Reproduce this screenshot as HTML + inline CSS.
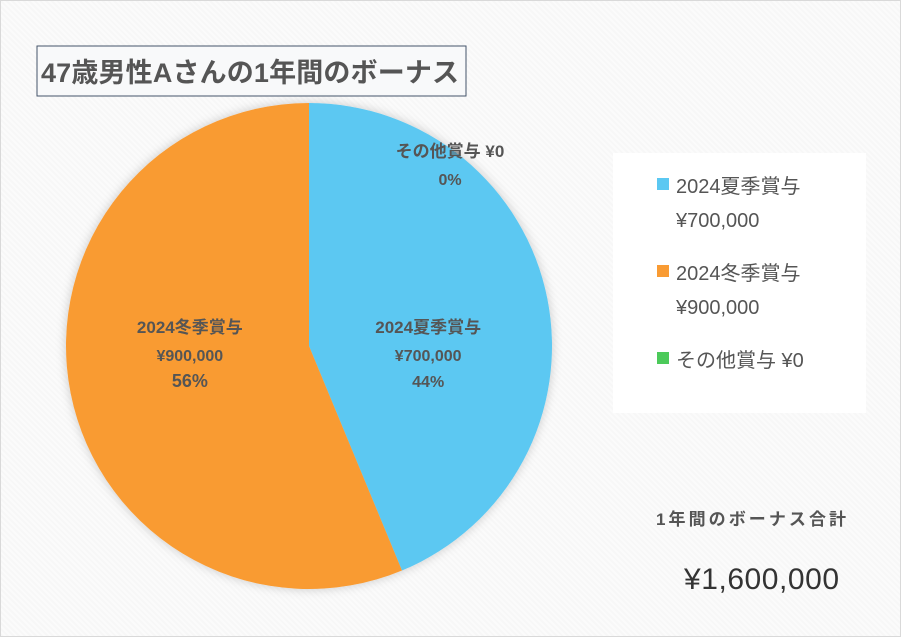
<!DOCTYPE html>
<html><head><meta charset="utf-8"><style>
body{margin:0;width:901px;height:637px;overflow:hidden;font-family:"Liberation Sans","Noto Sans CJK JP",sans-serif;}
#wrap{position:absolute;left:0;top:0;width:899px;height:635px;border:1px solid #d9d9d9;background:repeating-linear-gradient(45deg,#f7f7f7 0 2px,#fbfbfb 2px 4px);}
</style></head><body>
<div id="wrap">
<svg width="901" height="637" style="position:absolute;left:0;top:0">
<defs><filter id="sh" x="-10%" y="-10%" width="120%" height="120%"><feDropShadow dx="0" dy="0" stdDeviation="5" flood-color="#000" flood-opacity="0.2"/></filter></defs>
<rect x="36" y="45" width="429" height="50" fill="#f8f9fa" stroke="#44546a" stroke-width="1"/>
<text x="40" y="81" font-size="27" font-weight="bold" fill="#555" textLength="418">47歳男性Aさんの1年間のボーナス</text>
<g id="slices" filter="url(#sh)"></g>
<g id="labels"></g>
<rect x="612" y="152" width="253" height="260" fill="#fff"/>
<g id="legend"></g>
<text x="655" y="524" font-size="17" font-weight="bold" fill="#555" textLength="190">1年間のボーナス合計</text>
<text x="683" y="588" font-size="30" fill="#333" textLength="155">¥1,600,000</text>
</svg>
</div>
<script>
const categories=["2024夏季賞与","2024冬季賞与","その他賞与"];
const values=[700000,900000,0];
const valueLabels=["¥700,000","¥900,000","¥0"];
const colors=["#5bc8f2","#f99b33","#4cca5a"];
const NS="http://www.w3.org/2000/svg";
const cx=308,cy=345,r=243;
const total=values.reduce((a,b)=>a+b,0);
function pt(a,rr){return [cx+rr*Math.sin(a),cy-rr*Math.cos(a)];}
const sg=document.getElementById('slices'),lg=document.getElementById('labels'),leg=document.getElementById('legend');
function txt(parent,x,y,s,size,bold,fill,anchor){const t=document.createElementNS(NS,'text');t.setAttribute('x',x);t.setAttribute('y',y);t.setAttribute('font-size',size);if(bold)t.setAttribute('font-weight','bold');t.setAttribute('fill',fill);t.setAttribute('text-anchor',anchor||'start');t.textContent=s;parent.appendChild(t);return t;}
let a0=0;
values.forEach((v,i)=>{
 const frac=v/total,a1=a0+frac*2*Math.PI;
 if(v>0){
  const p0=pt(a0,r),p1=pt(a1,r);
  const p=document.createElementNS(NS,'path');
  p.setAttribute('d',`M${cx},${cy}L${p0[0]},${p0[1]}A${r},${r} 0 ${frac>0.5?1:0} 1 ${p1[0]},${p1[1]}Z`);
  p.setAttribute('fill',colors[i]);
  
  
  sg.appendChild(p);
 }
 const pct=Math.round(frac*100)+'%';
 const g=document.createElementNS(NS,'g');
 
 
 lg.appendChild(g);
 if(v>0){
  const m=pt((a0+a1)/2,r*0.5);
  txt(g,m[0],cy-13,categories[i],17,true,'#555','middle');
  txt(g,m[0],cy+15,valueLabels[i],16,true,'#555','middle');
  txt(g,m[0],cy+41,pct,i==1?18:16,true,'#555','middle');
 }else{
  txt(g,449,156,categories[i]+' '+valueLabels[i],17,true,'#555','middle');
  txt(g,449,184,pct,16,true,'#555','middle');
 }
 a0=a1;
 const e=document.createElementNS(NS,'g');
 
 
 leg.appendChild(e);
 const ly=[177,264,351][i];
 const sq=document.createElementNS(NS,'rect');
 sq.setAttribute('x',656);sq.setAttribute('y',ly);sq.setAttribute('width',12);sq.setAttribute('height',12);sq.setAttribute('fill',colors[i]);e.appendChild(sq);
 if(v>0){txt(e,675,ly+15,categories[i],20,false,'#555');txt(e,675,ly+49,valueLabels[i],20,false,'#555');}
 else txt(e,675,ly+15,categories[i]+' '+valueLabels[i],20,false,'#555');
});
</script>
</body></html>
